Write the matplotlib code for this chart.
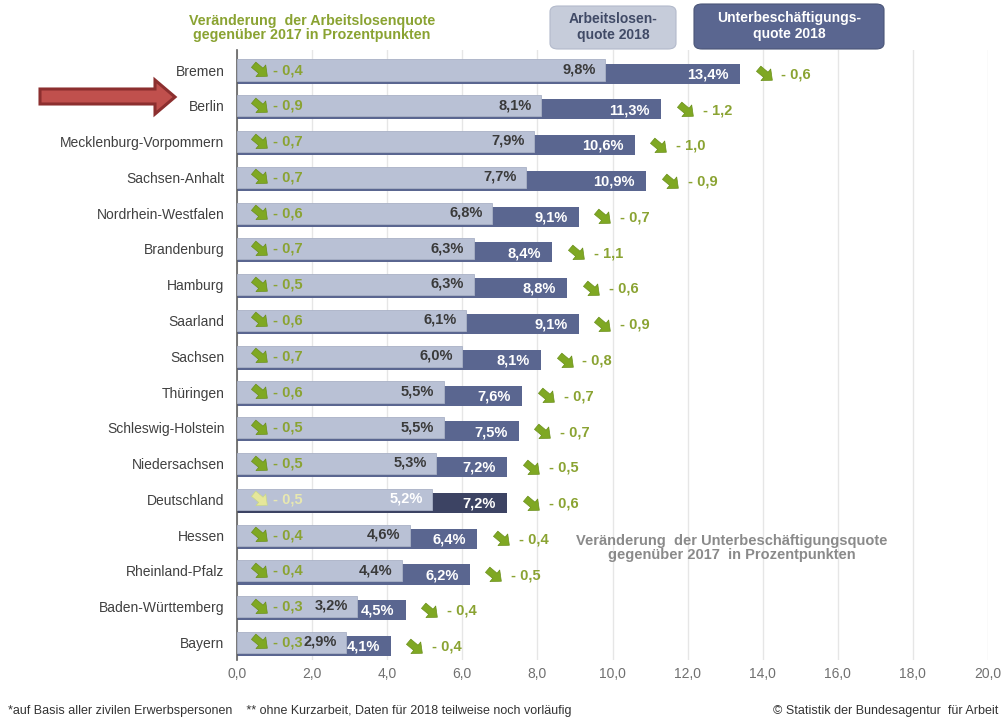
import matplotlib
matplotlib.use("Agg")
import matplotlib.pyplot as plt
import numpy as np
from matplotlib.patches import FancyBboxPatch, Polygon
from matplotlib.path import Path

plt.rcParams['font.family'] = ['Liberation Sans', 'DejaVu Sans']

laender = ["Bremen", "Berlin", "Mecklenburg-Vorpommern", "Sachsen-Anhalt",
           "Nordrhein-Westfalen", "Brandenburg", "Hamburg", "Saarland", "Sachsen",
           "Thüringen", "Schleswig-Holstein", "Niedersachsen", "Deutschland",
           "Hessen", "Rheinland-Pfalz", "Baden-Württemberg", "Bayern"]
alq_2018 = [9.8, 8.1, 7.9, 7.7, 6.8, 6.3, 6.3, 6.1, 6.0, 5.5, 5.5, 5.3, 5.2, 4.6, 4.4, 3.2, 2.9]
ubq_2018 = [13.4, 11.3, 10.6, 10.9, 9.1, 8.4, 8.8, 9.1, 8.1, 7.6, 7.5, 7.2, 7.2, 6.4, 6.2, 4.5, 4.1]
alq_diff = [-0.4, -0.9, -0.7, -0.7, -0.6, -0.7, -0.5, -0.6, -0.7, -0.6, -0.5, -0.5, -0.5, -0.4, -0.4, -0.3, -0.3]
ubq_diff = [-0.6, -1.2, -1.0, -0.9, -0.7, -1.1, -0.6, -0.9, -0.8, -0.7, -0.7, -0.5, -0.6, -0.4, -0.5, -0.4, -0.4]
x_ticks = [0, 2, 4, 6, 8, 10, 12, 14, 16, 18, 20]

W, H = 1003, 721
fig = plt.figure(figsize=(W / 100, H / 100), dpi=100)
fig.patch.set_facecolor("white")

def fx(px):
    return px / W

def fy(py):
    return 1 - py / H

# chunky down-right arrow marker
_base = np.array([(-1.0, 0.38), (0.05, 0.38), (0.05, 0.85), (1.0, 0.0),
                  (0.05, -0.85), (0.05, -0.38), (-1.0, -0.38), (-1.0, 0.38)])
_ang = np.deg2rad(-40)
_rot = np.array([[np.cos(_ang), -np.sin(_ang)], [np.sin(_ang), np.cos(_ang)]])
ARROW_MARKER = Path(_base @ _rot.T, closed=True)

ax_left, ax_right, ax_top, ax_bottom = 237, 988, 50, 660
ax = fig.add_axes([fx(ax_left), fy(ax_bottom), (ax_right - ax_left) / W, (ax_bottom - ax_top) / H])

spacing = 35.78
top_i = (ax_top - 70) / spacing
bot_i = (ax_bottom - 70) / spacing
ax.set_ylim(bot_i, top_i)
ax.set_xlim(0, 20)

LIGHT = "#b9c1d5"
DARK = "#5a6690"
DARK_DE = "#3c4363"
GREEN = "#8aa332"
ARROW_G = "#7fa823"

def fmt(v):
    return f"{v:.1f}".replace(".", ",")

def fmt_diff(v):
    return "- " + fmt(abs(v))

for i, name in enumerate(laender):
    is_de = name == "Deutschland"
    dcol = DARK_DE if is_de else DARK
    ax.barh(i + 0.10, ubq_2018[i], height=0.56, color=dcol, zorder=2)
    ax.barh(i, alq_2018[i], height=0.59, color=LIGHT, edgecolor="#a9b1c6", linewidth=0.6, zorder=3)
    # values
    ax.text(alq_2018[i] - 0.25, i - 0.02, fmt(alq_2018[i]) + "%", ha="right", va="center",
            fontsize=10.5, fontweight="bold", color="white" if is_de else "#3a3a3a", zorder=4)
    ax.text(ubq_2018[i] - 0.3, i + 0.12, fmt(ubq_2018[i]) + "%", ha="right", va="center",
            fontsize=10.5, fontweight="bold", color="white", zorder=4)
    # left change
    ax.plot([0.6], [i], marker=ARROW_MARKER, markersize=13, linestyle="none",
            color="#e6e79a" if is_de else ARROW_G, markeredgecolor="#c8d88a" if is_de else "#6a8f1a",
            markeredgewidth=0.5, zorder=5)
    ax.text(0.95, i, fmt_diff(alq_diff[i]), ha="left", va="center", fontsize=10.5,
            fontweight="bold", color="#e8e8b0" if is_de else GREEN, zorder=4)
    # right change
    ax.plot([ubq_2018[i] + 0.65], [i + 0.12], marker=ARROW_MARKER, markersize=13,
            linestyle="none", color=ARROW_G, markeredgecolor="#6a8f1a", markeredgewidth=0.5, zorder=5)
    ax.text(ubq_2018[i] + 1.1, i + 0.12, fmt_diff(ubq_diff[i]), ha="left", va="center",
            fontsize=10.5, fontweight="bold", color=GREEN, zorder=4)

ax.set_yticks(range(len(laender)))
ax.set_yticklabels(laender, fontsize=10, color="#404040")
ax.tick_params(axis="y", length=0, pad=9)
ax.set_xticks(x_ticks)
ax.set_xticklabels([fmt(t) for t in x_ticks], fontsize=10, color="#707070")
ax.tick_params(axis="x", length=0, pad=5)
ax.grid(axis="x", color="#e6e6e6", linewidth=1, zorder=0)
ax.set_axisbelow(True)
for s in ["top", "right", "bottom"]:
    ax.spines[s].set_visible(False)
ax.spines["left"].set_color("#606060")
ax.spines["left"].set_linewidth(1.2)

# legend boxes
b1 = FancyBboxPatch((fx(550), fy(49)), (676 - 550) / W, (49 - 6) / H,
                    boxstyle="round,pad=0,rounding_size=0.008", transform=fig.transFigure,
                    facecolor="#c6ccda", edgecolor="#b3bacb", linewidth=0.8)
fig.patches.append(b1)
fig.text(fx(613), fy(27), "Arbeitslosen-\nquote 2018", ha="center", va="center",
         fontsize=10, fontweight="bold", color="#404a66", linespacing=1.15)
b2 = FancyBboxPatch((fx(694), fy(49)), (884 - 694) / W, (49 - 4) / H,
                    boxstyle="round,pad=0,rounding_size=0.008", transform=fig.transFigure,
                    facecolor=DARK, edgecolor="#4a5578", linewidth=0.8)
fig.patches.append(b2)
fig.text(fx(789), fy(26), "Unterbeschäftigungs-\nquote 2018", ha="center", va="center",
         fontsize=10, fontweight="bold", color="white", linespacing=1.15)

# annotations
fig.text(fx(312), fy(28), "Veränderung  der Arbeitslosenquote\ngegenüber 2017 in Prozentpunkten",
         ha="center", va="center", fontsize=10.3, fontweight="bold", color=GREEN, linespacing=1.05)
fig.text(fx(732), fy(548), "Veränderung  der Unterbeschäftigungsquote\ngegenüber 2017  in Prozentpunkten",
         ha="center", va="center", fontsize=10.5, fontweight="bold", color="#8a8a8a", linespacing=1.05)

# footer
fig.text(fx(8), fy(711), "*auf Basis aller zivilen Erwerbspersonen    ** ohne Kurzarbeit, Daten für 2018 teilweise noch vorläufig",
         ha="left", va="center", fontsize=9, color="#333333")
fig.text(fx(998), fy(711), "© Statistik der Bundesagentur  für Arbeit",
         ha="right", va="center", fontsize=9, color="#333333")

# red arrow pointing to Berlin
pts = [(40, 89), (155, 89), (155, 80), (175, 97), (155, 114), (155, 104), (40, 104)]
arrow = Polygon([(fx(x), fy(y)) for x, y in pts], closed=True, transform=fig.transFigure,
                facecolor="#c0504d", edgecolor="#8c2f2f", linewidth=2.2)
fig.patches.append(arrow)

fig.savefig("out.png", dpi=100, facecolor="white")
